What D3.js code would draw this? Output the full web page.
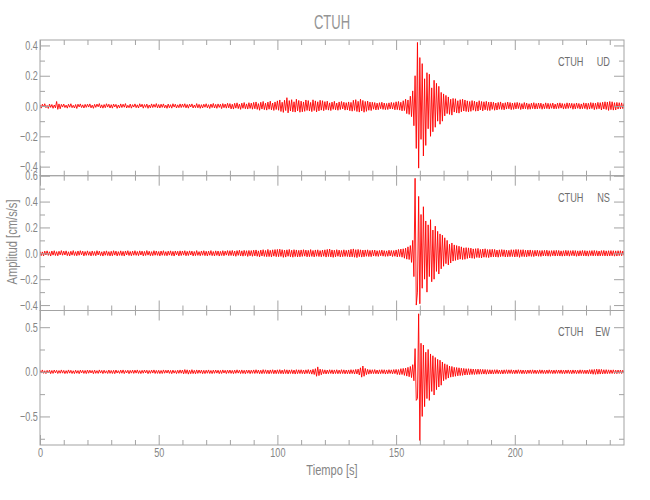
<!DOCTYPE html>
<html>
<head>
<meta charset="utf-8">
<script src="https://cdn.jsdelivr.net/npm/d3@7"></script>
<style>
  html, body { margin: 0; padding: 0; background: #fff; }
  svg { display: block; }
  text { font-family: 'Liberation Sans', Arial, sans-serif; }
</style>
</head>
<body>
<svg id="chart" width="650" height="500"></svg>
<script>
// ---------------- DATA ----------------
const title = "CTUH";
const xLabel = "Tiempo [s]";
const yLabel = "Amplitud [cm/s/s]";
const station = "CTUH";
const components = ["UD", "NS", "EW"];
const xTicksMajor = [0, 50, 100, 150, 200];
const xTicksMinor = [10, 20, 30, 40, 60, 70, 80, 90, 110, 120, 130, 140, 160, 170, 180, 190, 210, 220, 230, 240];
const timeMax = 246;
const sampleStep = 0.5;   // seconds between the samples listed below (first sample at t = 0)

// UD component (cm/s/s), one row = 10 s
const ud = [
 .008,-.014,.012,-.006,.015,-.011,.004,-.016,.013,-.009,.01,-.015,.007,-.012,.03,-.022,.014,-.018,.011,-.007,
 .013,-.01,.006,-.014,.012,-.008,.015,-.011,.005,-.013,.01,-.016,.012,-.006,.014,-.01,.008,-.013,.011,-.009,
 .012,-.007,.014,-.012,.006,-.015,.011,-.009,.013,-.005,.016,-.012,.008,-.014,.01,-.011,.015,-.007,.012,-.013,
 .009,-.014,.013,-.006,.011,-.015,.007,-.012,.014,-.01,.012,-.008,.016,-.013,.005,-.011,.013,-.014,.009,-.007,
 .014,-.011,.008,-.013,.015,-.006,.012,-.014,.01,-.009,.013,-.015,.007,-.012,.014,-.01,.011,-.008,.016,-.012,
 .01,-.013,.012,-.009,.014,-.012,.006,-.015,.013,-.011,.009,-.014,.015,-.007,.012,-.013,.008,-.011,.014,-.01,
 .013,-.008,.015,-.012,.01,-.014,.012,-.006,.014,-.013,.007,-.011,.016,-.012,.011,-.015,.009,-.013,.012,-.008,
 .015,-.012,.009,-.016,.013,-.01,.017,-.013,.011,-.015,.014,-.009,.012,-.017,.016,-.011,.013,-.014,.018,-.012,
 .016,-.019,.012,-.02,.018,-.014,.021,-.017,.013,-.022,.019,-.015,.023,-.018,.014,-.02,.022,-.016,.019,-.021,
 .024,-.018,.027,-.022,.016,-.028,.025,-.02,.03,-.024,.019,-.027,.026,-.021,.032,-.025,.02,-.029,.027,-.023,
 .034,-.028,.04,-.036,.025,-.042,.038,-.03,.055,-.045,.036,-.033,.042,-.038,.028,-.04,.045,-.032,.037,-.041,
 .032,-.038,.027,-.035,.04,-.029,.036,-.033,.024,-.037,.041,-.03,.034,-.039,.028,-.032,.038,-.027,.035,-.031,
 .029,-.024,.032,-.027,.021,-.03,.026,-.022,.031,-.025,.02,-.028,.027,-.023,.03,-.019,.025,-.027,.022,-.026,
 .027,-.031,.024,-.034,.038,-.029,.042,-.036,.031,-.04,.045,-.033,.037,-.041,.03,-.035,.033,-.028,.026,-.03,
 .025,-.021,.023,-.026,.019,-.024,.022,-.018,.025,-.022,.02,-.024,.017,-.023,.021,-.019,.024,-.02,.022,-.025,
 .028,-.024,.03,-.027,.025,-.032,.035,-.03,.045,-.05,.04,-.055,.065,-.07,.1,-.13,.2,-.28,.42,-.41,
 .32,-.22,.28,-.33,.18,-.26,.22,-.15,.21,-.2,.12,-.17,.17,-.14,.15,-.1,.13,-.12,.09,-.1,
 .08,-.065,.07,-.05,.06,-.055,.045,-.06,.05,-.04,.048,-.045,.035,-.047,.042,-.038,.045,-.033,.04,-.036,
 .034,-.038,.03,-.035,.036,-.028,.032,-.034,.027,-.033,.035,-.026,.03,-.032,.028,-.025,.031,-.029,.026,-.03,
 .027,-.022,.025,-.028,.02,-.026,.024,-.021,.027,-.023,.019,-.025,.022,-.02,.026,-.018,.023,-.024,.02,-.022,
 .022,-.019,.024,-.017,.021,-.023,.016,-.02,.023,-.018,.02,-.022,.015,-.021,.019,-.017,.022,-.02,.017,-.019,
 .02,-.016,.019,-.021,.014,-.018,.021,-.017,.018,-.02,.016,-.015,.02,-.019,.013,-.018,.019,-.016,.021,-.014,
 .017,-.02,.015,-.018,.021,-.016,.019,-.014,.018,-.021,.016,-.019,.02,-.015,.017,-.02,.014,-.018,.021,-.017,
 .019,-.022,.018,-.02,.023,-.017,.021,-.024,.019,-.021,.024,-.018,.022,-.026,.025,-.02,.028,-.023,.026,-.029,
 .03,-.024,.028,-.027,.022,-.026,.024,-.02,.022,-.019,.021,-.017,.018];

// NS component (cm/s/s)
const ns = [
 .015,-.018,.011,-.02,.017,-.013,.019,-.016,.012,-.021,.018,-.014,.02,-.017,.013,-.019,.016,-.012,.021,-.015,
 .017,-.013,.019,-.018,.012,-.02,.016,-.014,.021,-.017,.013,-.019,.018,-.015,.02,-.012,.017,-.02,.014,-.016,
 .019,-.015,.013,-.02,.018,-.016,.014,-.019,.02,-.013,.017,-.018,.012,-.021,.016,-.015,.019,-.017,.013,-.02,
 .016,-.019,.02,-.014,.017,-.02,.013,-.016,.019,-.018,.015,-.021,.018,-.013,.02,-.017,.014,-.019,.017,-.015,
 .02,-.016,.014,-.018,.019,-.013,.017,-.02,.015,-.017,.021,-.014,.016,-.019,.013,-.018,.02,-.015,.018,-.016,
 .014,-.02,.018,-.015,.02,-.017,.013,-.019,.017,-.014,.019,-.018,.015,-.021,.018,-.013,.016,-.02,.019,-.017,
 .018,-.014,.02,-.019,.015,-.017,.019,-.013,.017,-.02,.014,-.018,.021,-.016,.013,-.019,.018,-.015,.02,-.018,
 .016,-.02,.017,-.015,.021,-.018,.014,-.02,.019,-.016,.018,-.021,.015,-.017,.02,-.019,.017,-.014,.021,-.018,
 .02,-.017,.022,-.019,.018,-.023,.021,-.016,.024,-.02,.019,-.022,.023,-.018,.02,-.024,.022,-.019,.021,-.023,
 .024,-.02,.026,-.023,.019,-.027,.025,-.021,.028,-.024,.022,-.026,.03,-.025,.023,-.028,.027,-.022,.029,-.026,
 .03,-.026,.032,-.024,.028,-.031,.025,-.029,.027,-.023,.03,-.027,.024,-.03,.028,-.025,.026,-.028,.023,-.027,
 .026,-.024,.028,-.022,.025,-.027,.023,-.026,.029,-.024,.022,-.028,.026,-.023,.027,-.025,.021,-.027,.025,-.023,
 .027,-.029,.03,-.025,.033,-.028,.026,-.031,.024,-.027,.028,-.023,.025,-.028,.022,-.026,.027,-.024,.023,-.025,
 .026,-.028,.031,-.027,.034,-.03,.028,-.033,.03,-.026,.027,-.029,.025,-.027,.026,-.023,.027,-.025,.022,-.026,
 .024,-.021,.025,-.023,.02,-.024,.022,-.019,.025,-.022,.021,-.024,.019,-.023,.024,-.02,.022,-.025,.021,-.023,
 .026,-.028,.03,-.025,.033,-.03,.035,-.038,.04,-.045,.05,-.048,.06,-.07,.1,-.18,.58,-.4,-.3,.44,
 -.39,.3,-.27,.36,-.2,.25,-.3,.22,-.18,.26,-.22,.18,-.2,.21,-.14,.17,-.16,.15,-.12,.14,
 -.1,.12,-.08,.1,-.09,.07,-.075,.08,-.06,.065,-.055,.06,-.05,.055,-.045,.05,-.048,.042,-.046,.044,
 -.04,.042,-.036,.04,-.038,.034,-.04,.036,-.032,.038,-.034,.03,-.036,.033,-.03,.035,-.031,.029,-.033,.03,
 -.029,.031,-.027,.03,-.028,.025,-.03,.027,-.026,.029,-.024,.027,-.028,.025,-.027,.023,-.026,.028,-.025,.027,
 -.028,.03,-.026,.029,-.031,.027,-.025,.028,-.026,.024,-.027,.025,-.023,.026,-.024,.022,-.025,.023,-.021,.024,
 -.023,.021,-.024,.022,-.02,.023,-.021,.024,-.022,.02,-.023,.021,-.019,.022,-.021,.023,-.02,.022,-.021,.019,
 -.022,.02,-.021,.023,-.019,.021,-.022,.02,-.018,.022,-.02,.021,-.023,.019,-.021,.02,-.019,.022,-.02,.021,
 -.021,.019,-.022,.02,-.018,.021,-.02,.022,-.019,.02,-.021,.018,-.02,.021,-.019,.022,-.02,.019,-.021,.02,
 -.02,.021,-.019,.02,-.022,.019,-.021,.02,-.018,.02,-.019,.018,-.017];

// EW component (cm/s/s)
const ew = [
 .018,-.014,.021,-.017,.012,-.02,.016,-.013,.019,-.021,.015,-.018,.02,-.012,.017,-.019,.014,-.016,.021,-.015,
 .016,-.02,.013,-.018,.021,-.015,.017,-.019,.012,-.02,.018,-.016,.014,-.021,.019,-.013,.017,-.018,.015,-.02,
 .02,-.016,.018,-.013,.015,-.021,.019,-.017,.013,-.018,.021,-.014,.016,-.02,.018,-.015,.012,-.019,.02,-.017,
 .015,-.019,.017,-.021,.02,-.014,.013,-.018,.019,-.016,.021,-.02,.015,-.013,.018,-.021,.016,-.015,.019,-.018,
 .019,-.015,.021,-.018,.014,-.02,.017,-.016,.02,-.013,.018,-.021,.015,-.017,.019,-.014,.021,-.019,.016,-.018,
 .017,-.02,.015,-.019,.021,-.016,.018,-.014,.02,-.018,.016,-.021,.019,-.015,.014,-.02,.018,-.017,.021,-.016,
 .02,-.023,.025,-.019,.022,-.026,.018,-.021,.024,-.02,.017,-.022,.021,-.018,.02,-.016,.019,-.021,.017,-.02,
 .018,-.016,.021,-.019,.015,-.02,.019,-.017,.02,-.015,.018,-.021,.016,-.019,.021,-.014,.017,-.02,.019,-.016,
 .02,-.018,.016,-.021,.019,-.017,.022,-.015,.018,-.02,.021,-.019,.017,-.022,.02,-.016,.019,-.021,.018,-.017,
 .021,-.019,.023,-.017,.02,-.022,.018,-.021,.024,-.019,.022,-.02,.019,-.023,.021,-.018,.023,-.022,.02,-.021,
 .022,-.02,.024,-.021,.019,-.023,.025,-.02,.022,-.024,.021,-.019,.023,-.022,.02,-.025,.024,-.021,.022,-.02,
 .023,-.021,.02,-.024,.022,-.019,.025,-.022,.021,-.026,.028,-.03,.035,-.05,.055,-.042,.03,-.033,.025,-.022,
 .022,-.024,.02,-.021,.023,-.019,.022,-.024,.021,-.02,.023,-.022,.019,-.021,.024,-.02,.022,-.023,.02,-.022,
 .021,-.023,.024,-.02,.022,-.025,.027,-.024,.03,-.035,.045,-.06,.065,-.05,.038,-.032,.028,-.026,.024,-.022,
 .023,-.021,.025,-.022,.02,-.024,.022,-.021,.024,-.02,.023,-.025,.021,-.022,.024,-.019,.022,-.023,.025,-.021,
 .027,-.03,.025,-.032,.035,-.03,.038,-.04,.042,-.048,.05,-.055,.06,-.065,.08,-.1,.26,-.32,-.3,.65,
 -.77,.32,-.5,.3,-.39,.22,-.3,.25,-.32,.2,-.22,.18,-.26,.16,-.2,.14,-.17,.13,-.15,.11,
 -.1,.09,-.085,.08,-.07,.065,-.06,.06,-.055,.05,-.05,.048,-.045,.045,-.042,.04,-.04,.038,-.036,.035,
 -.034,.035,-.032,.033,-.03,.031,-.03,.029,-.028,.03,-.027,.028,-.026,.027,-.025,.026,-.027,.024,-.025,.023,
 -.024,.022,-.025,.023,-.021,.024,-.022,.02,-.023,.021,-.024,.022,-.02,.023,-.021,.022,-.019,.023,-.021,.02,
 -.022,.021,-.02,.023,-.019,.021,-.022,.02,-.021,.019,-.022,.02,-.018,.021,-.02,.022,-.019,.02,-.021,.018,
 -.02,.022,-.019,.021,-.02,.018,-.021,.02,-.019,.022,-.018,.02,-.021,.019,-.02,.021,-.018,.02,-.019,.021,
 -.021,.019,-.022,.02,-.018,.021,-.02,.019,-.022,.021,-.019,.02,-.021,.018,-.02,.022,-.019,.021,-.02,.019,
 -.021,.02,-.022,.024,-.023,.025,-.027,.026,-.028,.03,-.026,.028,-.025,.027,-.024,.023,-.022,.024,-.021,.022,
 -.02,.021,-.019,.022,-.02,.019,-.021,.02,-.018,.02,-.019,.018,-.017];

// y-axis ranges and ticks for each panel
const yDomains = [[-0.46, 0.436], [-0.442, 0.6], [-0.82, 0.687]];
const yMajor = [[-0.4, -0.2, 0, 0.2, 0.4], [-0.4, -0.2, 0, 0.2, 0.4, 0.6], [-0.5, 0, 0.5]];
const yMinor = [[-0.3, -0.1, 0.1, 0.3], [-0.3, -0.1, 0.1, 0.3, 0.5], [-0.75, -0.25, 0.25]];

// ---------------- DRAW ----------------
const series = [ud, ns, ew].map(arr => arr.map((v, i) => [i * sampleStep, v]));

const svg = d3.select("#chart");
const left = 40, right = 624;
const panelTops = [40, 175.7, 310.5];
const panelBottoms = [175.7, 310.5, 445];
const axisColor = "#a3a3a3";
const textColor = "#858585";
const tickScale = 0.7;

const x = d3.scaleLinear().domain([0, timeMax]).range([left, right]);

// condensed text helper (reference uses a narrow stroke font)
function narrowText(px, py, s, size, fill, anchor, str) {
  return svg.append("text").attr("x", px / s).attr("y", py)
    .attr("transform", `scale(${s},1)`).attr("text-anchor", anchor)
    .attr("font-size", size).attr("fill", fill).text(str);
}

function styleAxis(g) {
  g.select(".domain").remove();
  g.selectAll(".tick line").attr("stroke", axisColor);
  g.selectAll(".tick text").attr("fill", textColor).attr("font-size", 13)
    .attr("transform", `scale(${tickScale},1)`);
}

narrowText((left + right) / 2, 29, 0.62, 21, "#959595", "middle", title);

series.forEach((data, p) => {
  const top = panelTops[p], bot = panelBottoms[p];
  const y = d3.scaleLinear().domain(yDomains[p]).range([bot, top]);
  const fmt = d3.format(".1f");

  const cid = "clip" + p;
  svg.append("clipPath").attr("id", cid).append("rect")
    .attr("x", left).attr("y", top).attr("width", right - left).attr("height", bot - top);

  const line = d3.line().x(d => x(d[0])).y(d => y(d[1]));
  svg.append("path").datum(data).attr("clip-path", `url(#${cid})`)
    .attr("fill", "none").attr("stroke", "#ff0000").attr("stroke-width", 0.9)
    .attr("d", line);

  // left axis
  svg.append("g").attr("transform", `translate(${left},0)`)
    .call(d3.axisLeft(y).tickValues(yMajor[p]).tickSize(-10).tickPadding(3).tickFormat(fmt)).call(styleAxis);
  svg.append("g").attr("transform", `translate(${left},0)`)
    .call(d3.axisLeft(y).tickValues(yMinor[p]).tickSize(-5).tickFormat("")).call(styleAxis);
  // right axis
  svg.append("g").attr("transform", `translate(${right},0)`)
    .call(d3.axisRight(y).tickValues(yMajor[p]).tickSize(-10).tickFormat("")).call(styleAxis);
  svg.append("g").attr("transform", `translate(${right},0)`)
    .call(d3.axisRight(y).tickValues(yMinor[p]).tickSize(-5).tickFormat("")).call(styleAxis);
  // top axis
  svg.append("g").attr("transform", `translate(0,${top})`)
    .call(d3.axisTop(x).tickValues(xTicksMajor).tickSize(-10).tickFormat("")).call(styleAxis);
  svg.append("g").attr("transform", `translate(0,${top})`)
    .call(d3.axisTop(x).tickValues(xTicksMinor).tickSize(-5).tickFormat("")).call(styleAxis);
  // bottom axis
  svg.append("g").attr("transform", `translate(0,${bot})`)
    .call(d3.axisBottom(x).tickValues(xTicksMajor).tickSize(-10).tickPadding(3)
      .tickFormat(p === 2 ? d3.format("d") : "")).call(styleAxis);
  svg.append("g").attr("transform", `translate(0,${bot})`)
    .call(d3.axisBottom(x).tickValues(xTicksMinor).tickSize(-5).tickFormat("")).call(styleAxis);

  // frame
  svg.append("rect").attr("x", left).attr("y", top).attr("width", right - left).attr("height", bot - top)
    .attr("fill", "none").attr("stroke", axisColor).attr("stroke-width", 1);

  // component label: station name and component, with a wide gap
  narrowText(558, top + 26, 0.68, 13.5, "#6e6e6e", "start", station);
  narrowText(610, top + 26, 0.68, 13.5, "#6e6e6e", "end", components[p]);
});

narrowText((left + right) / 2, 475, 0.74, 15, textColor, "middle", xLabel);
svg.append("text").attr("transform", "translate(17,242) rotate(-90) scale(0.8,1)")
  .attr("text-anchor", "middle").attr("font-size", 14).attr("fill", textColor).text(yLabel);
</script>
</body>
</html>
